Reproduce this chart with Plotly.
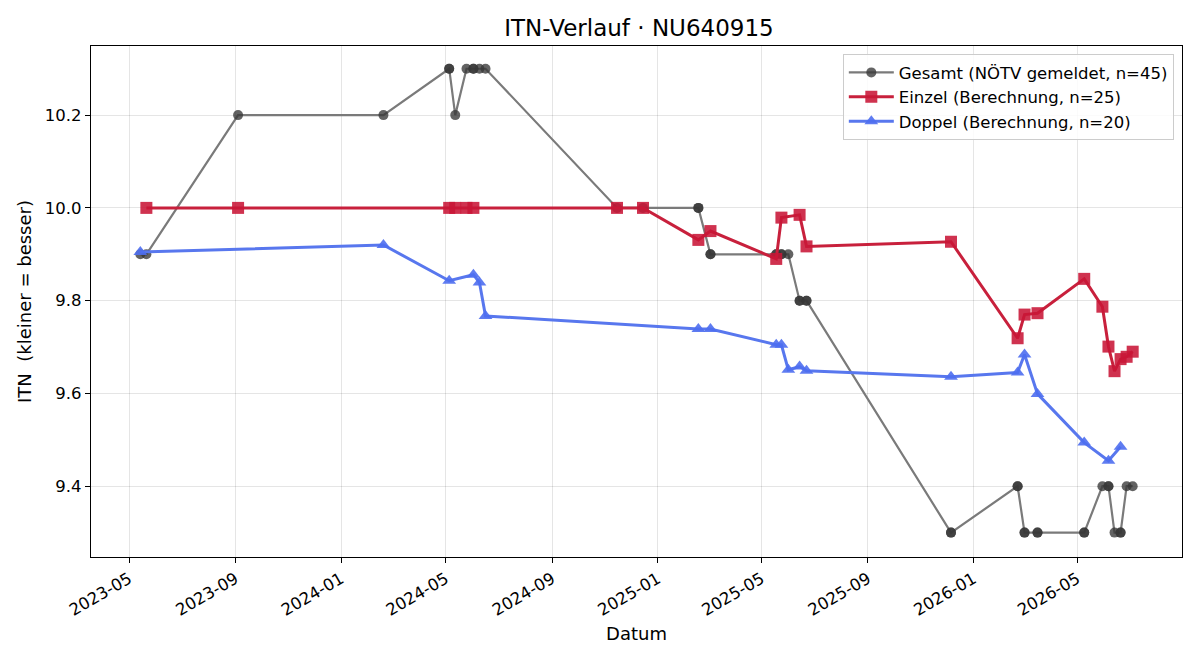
import plotly.graph_objects as go

# ---- Data ----
gesamt_dates = [
    "2023-05-14", "2023-05-21", "2023-09-04", "2024-02-19", "2024-05-05", "2024-05-05",
    "2024-05-12", "2024-05-25", "2024-06-02", "2024-06-02", "2024-06-09", "2024-06-16",
    "2024-11-15", "2024-12-15", "2025-02-17", "2025-02-17", "2025-03-03", "2025-03-03",
    "2025-05-18", "2025-05-18", "2025-05-24", "2025-05-24", "2025-06-01", "2025-06-14",
    "2025-06-14", "2025-06-22", "2025-06-22", "2025-12-06", "2025-12-06", "2026-02-21",
    "2026-02-21", "2026-03-01", "2026-03-01", "2026-03-16", "2026-03-16", "2026-05-09",
    "2026-05-09", "2026-05-30", "2026-06-06", "2026-06-06", "2026-06-13", "2026-06-20",
    "2026-06-20", "2026-06-27", "2026-07-04",
]
gesamt_vals = [
    9.9, 9.9, 10.2, 10.2, 10.3, 10.3,
    10.2, 10.3, 10.3, 10.3, 10.3, 10.3,
    10.0, 10.0, 10.0, 10.0, 9.9, 9.9,
    9.9, 9.9, 9.9, 9.9, 9.9, 9.8,
    9.8, 9.8, 9.8, 9.3, 9.3, 9.4,
    9.4, 9.3, 9.3, 9.3, 9.3, 9.3,
    9.3, 9.4, 9.4, 9.4, 9.3, 9.3,
    9.3, 9.4, 9.4,
]

einzel_dates = [
    "2023-05-21", "2023-09-04", "2024-05-05", "2024-05-12", "2024-05-25", "2024-06-02",
    "2024-11-15", "2024-12-15", "2025-02-17", "2025-03-03", "2025-05-18", "2025-05-24",
    "2025-06-14", "2025-06-22", "2025-12-06", "2026-02-21", "2026-03-01", "2026-03-16",
    "2026-05-09", "2026-05-30", "2026-06-06", "2026-06-13", "2026-06-20", "2026-06-27",
    "2026-07-04",
]
einzel_vals = [
    10.0, 10.0, 10.0, 10.0, 10.0, 10.0,
    10.0, 10.0, 9.931, 9.950, 9.890, 9.979,
    9.985, 9.917, 9.927, 9.719, 9.770, 9.773,
    9.847, 9.787, 9.701, 9.648, 9.674, 9.679,
    9.690,
]

doppel_dates = [
    "2023-05-14", "2024-02-19", "2024-05-05", "2024-06-02", "2024-06-09", "2024-06-16",
    "2025-02-17", "2025-03-03", "2025-05-18", "2025-05-24", "2025-06-01", "2025-06-14",
    "2025-06-22", "2025-12-06", "2026-02-21", "2026-03-01", "2026-03-16", "2026-05-09",
    "2026-06-06", "2026-06-20",
]
doppel_vals = [
    9.905, 9.920, 9.843, 9.856, 9.839, 9.767,
    9.739, 9.739, 9.705, 9.705, 9.651, 9.658,
    9.649, 9.636, 9.645, 9.684, 9.599, 9.494,
    9.455, 9.485,
]

FONT = "DejaVu Sans"

fig = go.Figure()

fig.add_trace(go.Scatter(
    x=gesamt_dates, y=gesamt_vals, mode="lines+markers",
    name="Gesamt (NÖTV gemeldet, n=45)",
    line=dict(color="#7a7a7a", width=2.2),
    marker=dict(symbol="circle", size=10, color="rgba(55,55,55,0.78)", line=dict(width=0)),
))
fig.add_trace(go.Scatter(
    x=einzel_dates, y=einzel_vals, mode="lines+markers",
    name="Einzel (Berechnung, n=25)",
    line=dict(color="#c8203c", width=3),
    marker=dict(symbol="square", size=12, color="rgba(200,22,55,0.88)", line=dict(width=0)),
))
fig.add_trace(go.Scatter(
    x=doppel_dates, y=doppel_vals, mode="lines+markers",
    name="Doppel (Berechnung, n=20)",
    line=dict(color="#5877ee", width=3),
    marker=dict(symbol="triangle-up", size=12, color="rgba(78,110,240,0.9)", line=dict(width=0)),
))

axis_common = dict(
    showline=True, linecolor="black", linewidth=1.2, mirror=True,
    ticks="outside", ticklen=5, tickcolor="black", tickwidth=1.2,
    showgrid=True, gridcolor="rgba(0,0,0,0.1)", gridwidth=1,
    zeroline=False,
    tickfont=dict(family=FONT, size=16.5, color="black"),
)

fig.update_layout(
    width=1200, height=660,
    margin=dict(l=91, r=18, t=46, b=103),
    paper_bgcolor="white", plot_bgcolor="white",
    font=dict(family=FONT, color="black"),
    title=dict(text="ITN-Verlauf · NU640915", x=0.5325, xanchor="center",
               y=0.957, yanchor="middle", font=dict(family=FONT, size=23)),
    showlegend=True,
    legend=dict(
        x=0.9925, y=0.984, xanchor="right", yanchor="top",
        bgcolor="rgba(255,255,255,0.85)", bordercolor="#cccccc", borderwidth=1,
        font=dict(family=FONT, size=16.5), itemwidth=45, tracegroupgap=0,
    ),
    xaxis=dict(
        **axis_common,
        type="date",
        range=["2023-03-18", "2026-08-30"],
        tick0="2023-01-01", dtick="M4", tickformat="%Y-%m",
        tickangle=-30,
        title=dict(text="Datum", font=dict(family=FONT, size=18), standoff=8),
    ),
    yaxis=dict(
        **axis_common,
        range=[9.2474, 10.349],
        tickvals=[9.4, 9.6, 9.8, 10.0, 10.2],
        tickformat=".1f",
        title=dict(text="ITN  (kleiner = besser)", font=dict(family=FONT, size=18), standoff=8),
    ),
)

fig.write_html("out.html")
